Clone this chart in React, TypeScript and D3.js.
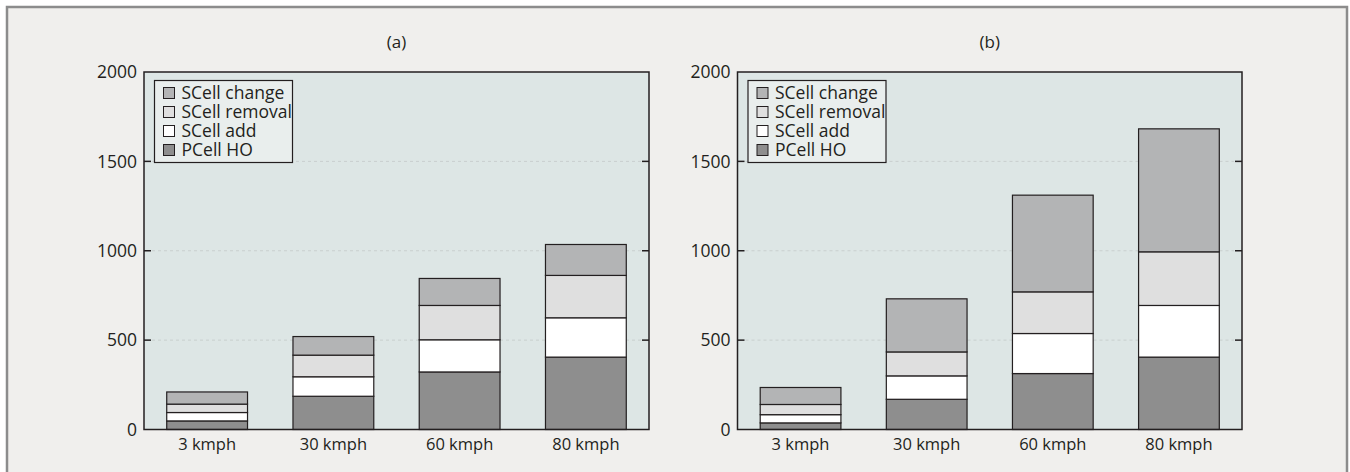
import * as d3 from 'd3';

// categories and series
const speeds = ['3 kmph', '30 kmph', '60 kmph', '80 kmph'];
const seriesKeys = ['PCell HO', 'SCell add', 'SCell removal', 'SCell change'];
const seriesFill: Record<string, string> = {
  'PCell HO': '#8e8e8e',
  'SCell add': '#ffffff',
  'SCell removal': '#dfdfdf',
  'SCell change': '#b3b4b5',
};

// panel (a)
const pcellA = [48, 186, 322, 405];
const addA = [47, 109, 180, 220];
const removalA = [47, 121, 192, 237];
const changeA = [68, 104, 151, 173];

// panel (b)
const pcellB = [37, 169, 313, 405];
const addB = [46, 131, 224, 289];
const removalB = [57, 134, 233, 300];
const changeB = [95, 297, 541, 688];

const yTicks = [0, 500, 1000, 1500, 2000];

const W = 1350;
const H = 472;
const FONT = '"Open Sans", "DejaVu Sans", sans-serif';
const TEXT = '#231f20';

type Row = Record<string, number | string>;

function buildRows(p: number[], a: number[], r: number[], c: number[]): Row[] {
  return speeds.map((s, i) => ({
    speed: s,
    'PCell HO': p[i],
    'SCell add': a[i],
    'SCell removal': r[i],
    'SCell change': c[i],
  }));
}

function Panel({ left, right, title, rows }: { left: number; right: number; title: string; rows: Row[] }) {
  const top = 72;
  const bottom = 429.5;
  const x = d3.scaleBand<string>().domain(speeds).range([left, right]).paddingInner(0.36).paddingOuter(0.18);
  const y = d3.scaleLinear().domain([0, 2000]).range([bottom, top]);
  const stacked = d3.stack<Row>().keys(seriesKeys).value((d, k) => d[k] as number)(rows);
  const legendItems = seriesKeys.slice().reverse();
  const lx = left + 10.5;
  const ly = top + 8.5;

  return (
    <g>
      <text x={(left + right) / 2} y={48} textAnchor="middle" fontSize={17} fill={TEXT} fontFamily={FONT}>
        {title}
      </text>
      <rect x={left} y={top} width={right - left} height={bottom - top} fill="#dde6e5" />
      {/* grid + ticks */}
      {yTicks.map((v) => (
        <g key={v}>
          {v > 0 && v < 2000 && (
            <>
              <line x1={left + 8} x2={right - 8} y1={y(v)} y2={y(v)} stroke="#c9cfce" strokeWidth={1} strokeDasharray="3 3" />
              <line x1={left} x2={left + 7} y1={y(v)} y2={y(v)} stroke="#231f20" strokeWidth={1.5} />
              <line x1={right - 7} x2={right} y1={y(v)} y2={y(v)} stroke="#231f20" strokeWidth={1.5} />
            </>
          )}
          <text x={left - 7} y={y(v)} dy="0.35em" textAnchor="end" fontSize={17.5} fill={TEXT} fontFamily={FONT}>
            {v}
          </text>
        </g>
      ))}
      {/* bars */}
      {stacked.map((layer) => (
        <g key={layer.key}>
          {layer.map((d, i) => (
            <rect
              key={i}
              x={x(speeds[i])}
              y={y(d[1])}
              width={x.bandwidth()}
              height={y(d[0]) - y(d[1])}
              fill={seriesFill[layer.key]}
              stroke="#231f20"
              strokeWidth={1.2}
            />
          ))}
        </g>
      ))}
      {/* category labels */}
      {speeds.map((s) => (
        <text
          key={s}
          x={(x(s) ?? 0) + x.bandwidth() / 2}
          y={450}
          textAnchor="middle"
          fontSize={16.5}
          fill={TEXT}
          fontFamily={FONT}
        >
          {s}
        </text>
      ))}
      <rect x={left} y={top} width={right - left} height={bottom - top} fill="none" stroke="#231f20" strokeWidth={1.5} />
      {/* legend */}
      <rect x={lx} y={ly} width={138} height={82} fill="#e9eeed" stroke="#231f20" strokeWidth={1.2} />
      {legendItems.map((k, i) => (
        <g key={k} transform={`translate(${lx + 9}, ${ly + 12.5 + i * 19})`}>
          <rect x={0} y={-5.5} width={11} height={11} fill={seriesFill[k]} stroke="#231f20" strokeWidth={1} />
          <text x={18} y={0} dy="0.35em" fontSize={17.5} fill={TEXT} fontFamily={FONT}>
            {k}
          </text>
        </g>
      ))}
    </g>
  );
}

export default function App() {
  const rowsA = buildRows(pcellA, addA, removalA, changeA);
  const rowsB = buildRows(pcellB, addB, removalB, changeB);
  return (
    <div style={{ position: 'absolute', left: 0, top: 0 }}>
      <svg width={W} height={H} style={{ display: 'block' }}>
        <rect x={0} y={0} width={W} height={H} fill="#ffffff" />
        <rect x={7} y={7} width={1340} height={H} fill="#f0efed" stroke="#8c8c8c" strokeWidth={2.5} />
        <Panel left={144} right={649} title="(a)" rows={rowsA} />
        <Panel left={737.5} right={1242} title="(b)" rows={rowsB} />
      </svg>
    </div>
  );
}
